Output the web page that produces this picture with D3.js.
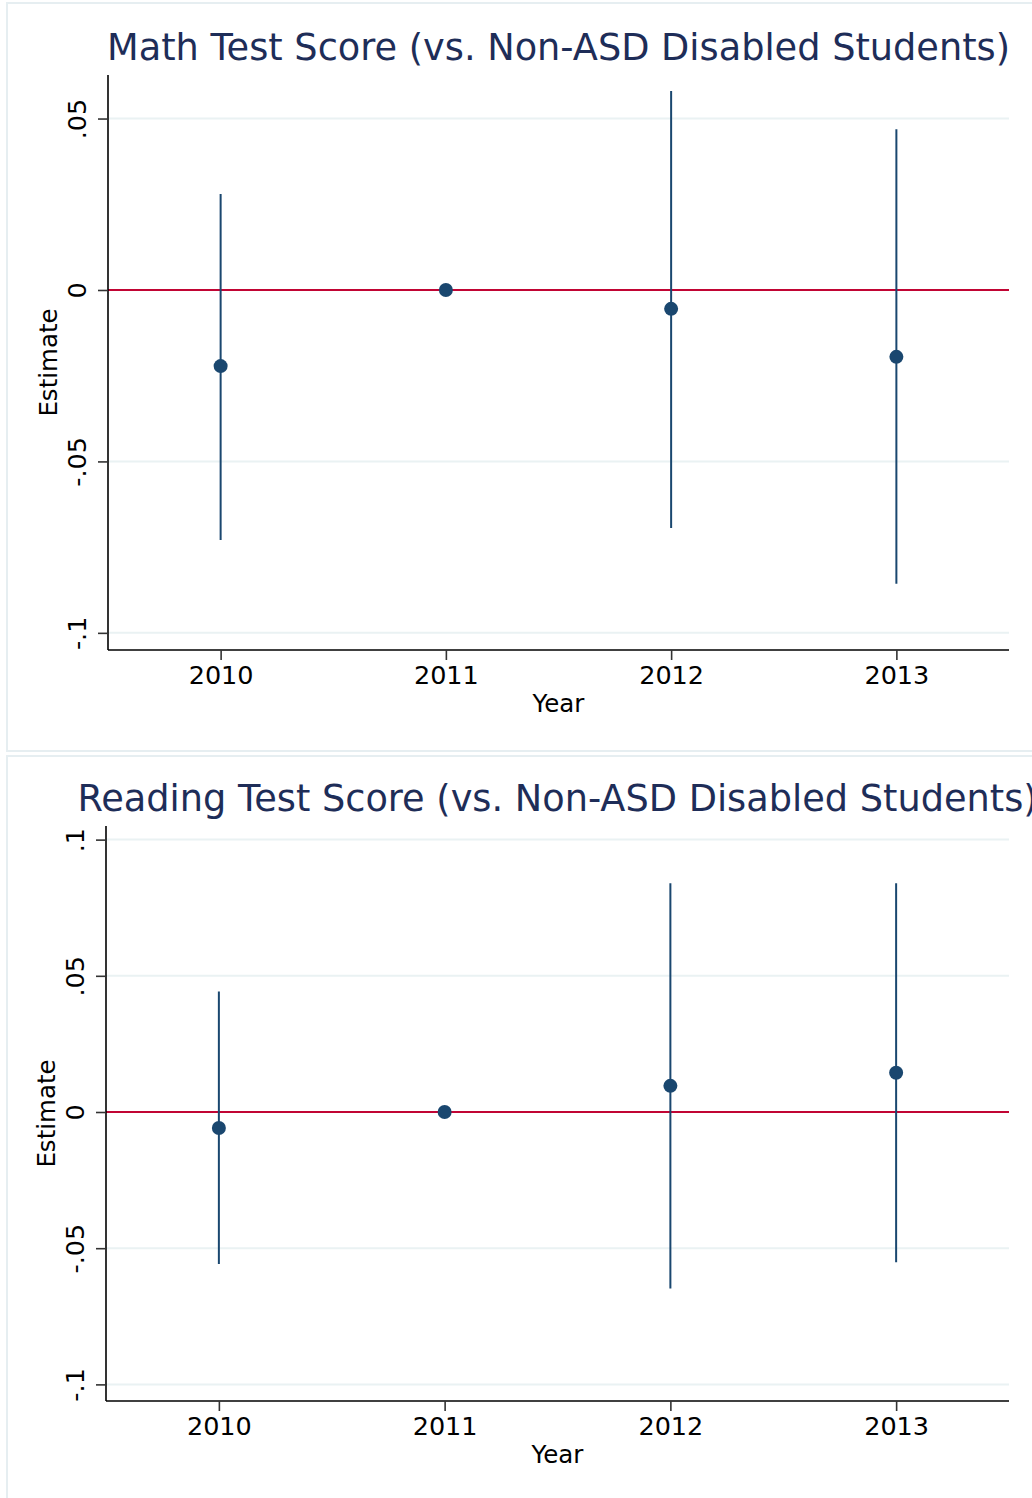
<!DOCTYPE html>
<html><head><meta charset="utf-8">
<script src="https://cdn.jsdelivr.net/npm/d3@7"></script>
<style>body{margin:0;background:#fff}svg{display:block}text{font-family:"DejaVu Sans",sans-serif}</style>
</head><body>
<script>
const years = [2010, 2011, 2012, 2013];
const mathEst = [-0.0222, 0, -0.0055, -0.0195];
const mathLo  = [-0.0729, null, -0.0694, -0.0857];
const mathHi  = [0.0280, null, 0.0580, 0.0469];
const mathTicks = [-0.1, -0.05, 0, 0.05];
const readEst = [-0.0059, 0, 0.0096, 0.0144];
const readLo  = [-0.0558, null, -0.0648, -0.0552];
const readHi  = [0.0442, null, 0.0840, 0.0840];
const readTicks = [-0.1, -0.05, 0, 0.05, 0.1];
const tickLabel = {"-0.1":"-.1","-0.05":"-.05","0":"0","0.05":".05","0.1":".1"};

const W = 1032, H = 1498;
const svg = d3.select("body").append("svg").attr("width", W).attr("height", H);

const navy = "#1a476f", red = "#c10534", grid = "#eaf2f3", titleCol = "#1e2d58";

function panel(cfg) {
  const g = svg.append("g");
  g.append("rect").attr("x", cfg.frame[0]).attr("y", cfg.frame[1])
    .attr("width", cfg.frame[2]).attr("height", cfg.frame[3])
    .attr("fill", "none").attr("stroke", "#e6eef1").attr("stroke-width", 2);
  const x = d3.scaleLinear().domain([2009.5, 2013.5]).range([cfg.left, cfg.right]);
  const y = d3.scaleLinear().domain(cfg.ydom).range([cfg.bottom, cfg.top]);
  g.selectAll(".grid").data(cfg.ticks).join("line")
    .attr("x1", cfg.left).attr("x2", cfg.right)
    .attr("y1", d => y(d)).attr("y2", d => y(d))
    .attr("stroke", grid).attr("stroke-width", 2);
  g.append("line").attr("x1", cfg.left).attr("x2", cfg.right)
    .attr("y1", y(0)).attr("y2", y(0)).attr("stroke", red).attr("stroke-width", 2);
  const ya = d3.axisLeft(y).tickValues(cfg.ticks).tickSize(10).tickPadding(0)
    .tickFormat(d => tickLabel[String(+d.toFixed(2))]);
  const yg = g.append("g").attr("transform", `translate(${cfg.left},0)`).call(ya);
  yg.select(".domain").attr("d", `M0,${cfg.top}V${cfg.bottom}`).attr("stroke", "#000").attr("stroke-width", 1.6);
  yg.selectAll(".tick line").attr("stroke", "#333").attr("stroke-width", 1.6);
  yg.selectAll(".tick text").attr("x", null).attr("dy", null)
    .attr("transform", "translate(-22,0) rotate(-90)")
    .attr("text-anchor", "middle").attr("fill", "#000")
    .style("font-size", "25.5px").style("font-family", "DejaVu Sans");
  const xa = d3.axisBottom(x).tickValues(years).tickFormat(d3.format("d")).tickSize(10).tickPadding(4);
  const xg = g.append("g").attr("transform", `translate(0,${cfg.bottom})`).call(xa);
  xg.select(".domain").attr("d", `M${cfg.left},0H${cfg.right}`).attr("stroke", "#000").attr("stroke-width", 1.6);
  xg.selectAll(".tick line").attr("stroke", "#333").attr("stroke-width", 1.6);
  xg.selectAll(".tick text").attr("fill", "#000").style("font-size", "25.5px").style("font-family", "DejaVu Sans")
    .attr("dy", null).attr("y", 34);
  g.append("text").attr("x", (cfg.left + cfg.right) / 2).attr("y", cfg.bottom + 62)
    .attr("text-anchor", "middle").style("font-size", "24.5px").text("Year");
  g.append("text").attr("transform", `translate(${cfg.left - 51},${(cfg.top + cfg.bottom) / 2}) rotate(-90)`)
    .attr("text-anchor", "middle").style("font-size", "24.5px").text("Estimate");
  g.append("text").attr("x", (cfg.left + cfg.right) / 2).attr("y", cfg.top - 15)
    .attr("text-anchor", "middle").attr("fill", titleCol).style("font-size", "36.7px").text(cfg.title);
  const idx = years.map((d, i) => i).filter(i => cfg.lo[i] !== null);
  g.selectAll(".ci").data(idx).join("line")
    .attr("x1", i => x(years[i])).attr("x2", i => x(years[i]))
    .attr("y1", i => y(cfg.lo[i])).attr("y2", i => y(cfg.hi[i]))
    .attr("stroke", navy).attr("stroke-width", 2);
  g.selectAll(".pt").data(years).join("circle")
    .attr("cx", d => x(d)).attr("cy", (d, i) => y(cfg.est[i])).attr("r", 7).attr("fill", navy);
}

panel({title: "Math Test Score (vs. Non-ASD Disabled Students)", frame: [7, 3, 1040, 748],
  left: 108, right: 1009, top: 75, bottom: 650, ydom: [-0.105, 0.0627],
  ticks: mathTicks, est: mathEst, lo: mathLo, hi: mathHi});
panel({title: "Reading Test Score (vs. Non-ASD Disabled Students)", frame: [7, 756, 1040, 760],
  left: 106, right: 1009, top: 826, bottom: 1401, ydom: [-0.1061, 0.1050],
  ticks: readTicks, est: readEst, lo: readLo, hi: readHi});
</script>
</body></html>
